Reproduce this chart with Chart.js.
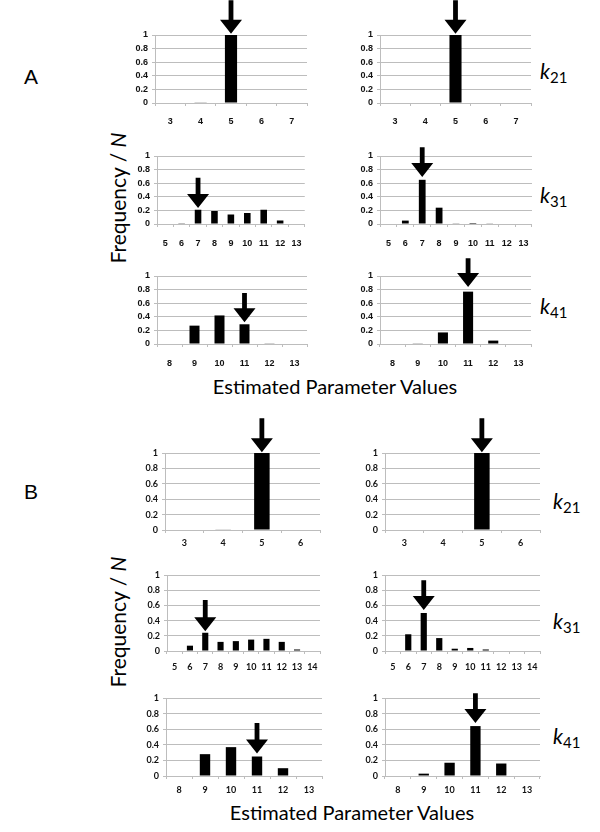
<!DOCTYPE html>
<html>
<head>
<meta charset="utf-8">
<script src="https://cdn.jsdelivr.net/npm/chart.js@4.4.1/dist/chart.umd.min.js"></script>
<style>
  body { margin: 0; background: #fff; }
  #page { position: relative; width: 600px; height: 832px; overflow: hidden; }
  canvas { position: absolute; }
  .txt { position: absolute; color: #000; white-space: nowrap; transform: translate(-50%, -50%); }
  .panel { font-family: "Liberation Sans", Arial, sans-serif; font-size: 21px; }
  .klab { font-family: Lato, sans-serif; font-size: 21px; transform: translate(0, -50%); }
  .klab sub { font-size: 15px; vertical-align: -4px; font-style: normal; }
  .ylab { font-family: Lato, sans-serif; font-size: 21px; transform: translate(-50%, -50%) rotate(-90deg); }
  .xlab { font-family: Lato, sans-serif; font-size: 20px; }
</style>
</head>
<body>
<div id="page">
  <div class="txt panel" style="left:31px; top:77px;">A</div>
  <div class="txt panel" style="left:31px; top:492px;">B</div>

  <div class="txt ylab" style="left:117px; top:198px;">Frequency / <i>N</i></div>
  <div class="txt ylab" style="left:117px; top:622px;">Frequency / <i>N</i></div>

  <div class="txt xlab" style="left:335px; top:386px;">Estimated Parameter Values</div>
  <div class="txt xlab" style="left:352px; top:812px;">Estimated Parameter Values</div>

  <div class="txt klab" style="left:540px; top:72px;"><i>k</i><sub>21</sub></div>
  <div class="txt klab" style="left:540px; top:196px;"><i>k</i><sub>31</sub></div>
  <div class="txt klab" style="left:540px; top:307px;"><i>k</i><sub>41</sub></div>
  <div class="txt klab" style="left:553px; top:502px;"><i>k</i><sub>21</sub></div>
  <div class="txt klab" style="left:553px; top:622px;"><i>k</i><sub>31</sub></div>
  <div class="txt klab" style="left:553px; top:737px;"><i>k</i><sub>41</sub></div>
</div>
<script>
// categories (estimated parameter values)
const k21CatsA = ["3", "4", "5", "6", "7"];
const k21CatsB = ["3", "4", "5", "6"];
const k31CatsA = ["5", "6", "7", "8", "9", "10", "11", "12", "13"];
const k31CatsB = ["5", "6", "7", "8", "9", "10", "11", "12", "13", "14"];
const k41Cats = ["8", "9", "10", "11", "12", "13"];

// frequency / N, panel A
const aK21Left = [0, 0.005, 1, 0, 0];
const aK21Right = [0, 0, 1, 0, 0];
const aK31Left = [0, 0.01, 0.21, 0.19, 0.14, 0.16, 0.21, 0.05, 0];
const aK31Right = [0, 0.05, 0.65, 0.24, 0.01, 0.015, 0.005, 0, 0];
const aK41Left = [0, 0.27, 0.42, 0.29, 0.01, 0];
const aK41Right = [0, 0.01, 0.17, 0.77, 0.05, 0];

// frequency / N, panel B
const bK21Left = [0, 0.005, 1, 0];
const bK21Right = [0, 0, 1, 0];
const bK31Left = [0, 0.07, 0.24, 0.12, 0.13, 0.15, 0.16, 0.12, 0.02, 0];
const bK31Right = [0, 0.22, 0.5, 0.17, 0.03, 0.04, 0.02, 0, 0, 0];
const bK41Left = [0, 0.28, 0.37, 0.25, 0.1, 0];
const bK41Right = [0, 0.03, 0.17, 0.64, 0.16, 0];

// true value arrows: category, tip value, tail value (same order as the charts)
const arrowCats = ["5", "5", "7", "7", "11", "11", "5", "5", "7", "7", "11", "11"];
const arrowTips = [1.02, 1.02, 0.235, 0.69, 0.32, 0.84, 1.01, 1.01, 0.26, 0.54, 0.29, 0.68];
const arrowTails = [1.51, 1.51, 0.68, 1.13, 0.75, 1.26, 1.45, 1.45, 0.67, 0.93, 0.68, 1.06];

const yTicks = [0, 0.2, 0.4, 0.6, 0.8, 1];

const charts = [
  { cats: k21CatsA, vals: aK21Left },
  { cats: k21CatsA, vals: aK21Right },
  { cats: k31CatsA, vals: aK31Left },
  { cats: k31CatsA, vals: aK31Right },
  { cats: k41Cats, vals: aK41Left },
  { cats: k41Cats, vals: aK41Right },
  { cats: k21CatsB, vals: bK21Left },
  { cats: k21CatsB, vals: bK21Right },
  { cats: k31CatsB, vals: bK31Left },
  { cats: k31CatsB, vals: bK31Right },
  { cats: k41Cats, vals: bK41Left },
  { cats: k41Cats, vals: bK41Right },
];

// plot area boxes [left, top, width, height, tick font, x label gap]
const boxes = [
  [155, 35, 152, 68, "Liberation Sans", 10],
  [380, 35, 151, 68, "Liberation Sans", 10],
  [157, 156, 148, 68, "Liberation Sans", 11],
  [380, 156, 152, 68, "Liberation Sans", 11],
  [157, 276, 150, 68, "Liberation Sans", 11],
  [380, 276, 151, 68, "Liberation Sans", 11],
  [165, 453, 155, 77, "Lato", 5],
  [385, 453, 155, 77, "Lato", 5],
  [167, 575, 153, 76, "Lato", 8],
  [385, 575, 155, 76, "Lato", 8],
  [166, 698, 156, 78, "Lato", 6],
  [385, 698, 155, 78, "Lato", 6],
];

const gridGray = "#bdbdbd";
const Y_W = 32, X_H = 30, PAD_R = 8;

// draws the arrow pointing at the true parameter value
const arrowPlugin = {
  id: "arrow",
  afterDraw(chart, args, opts) {
    const ctx = chart.ctx;
    const xs = chart.scales.x, ys = chart.scales.y;
    const x = xs.getPixelForValue(xs.getLabels().indexOf(opts.cat));
    const yTip = ys.getPixelForValue(opts.tip);
    const yTail = ys.getPixelForValue(opts.tail);
    const headH = 14, headW = 11, shaft = 2.4;
    ctx.save();
    ctx.fillStyle = "#000";
    ctx.beginPath();
    ctx.moveTo(x - shaft, yTail);
    ctx.lineTo(x + shaft, yTail);
    ctx.lineTo(x + shaft, yTip - headH);
    ctx.lineTo(x + headW, yTip - headH);
    ctx.lineTo(x, yTip);
    ctx.lineTo(x - headW, yTip - headH);
    ctx.lineTo(x - shaft, yTip - headH);
    ctx.closePath();
    ctx.fill();
    ctx.restore();
  },
};

const page = document.getElementById("page");

charts.forEach((c, i) => {
  const [pl, pt, pw, ph, fam, gap] = boxes[i];
  const top = Math.max(0, pt - 48);
  const padTop = pt - top;
  const cv = document.createElement("canvas");
  const w = pw + Y_W + PAD_R;
  const h = padTop + ph + X_H;
  cv.width = w;
  cv.height = h;
  cv.style.left = pl - Y_W + "px";
  cv.style.top = top + "px";
  cv.style.width = w + "px";
  cv.style.height = h + "px";
  page.appendChild(cv);

  const tickFont = { family: fam, size: 9, weight: "bold" };

  new Chart(cv, {
    type: "bar",
    data: {
      labels: c.cats,
      datasets: [
        {
          data: c.vals,
          backgroundColor: "#000",
          borderWidth: 0,
          barPercentage: 0.4,
          categoryPercentage: 1,
        },
      ],
    },
    options: {
      responsive: false,
      animation: false,
      devicePixelRatio: 1,
      layout: { padding: { top: padTop, right: PAD_R, left: 0, bottom: 0 } },
      plugins: {
        legend: { display: false },
        tooltip: { enabled: false },
        arrow: { cat: arrowCats[i], tip: arrowTips[i], tail: arrowTails[i] },
      },
      scales: {
        x: {
          offset: true,
          grid: {
            offset: true,
            drawOnChartArea: false,
            drawTicks: true,
            tickLength: 3,
            color: gridGray,
          },
          border: { display: true, color: gridGray },
          ticks: { font: tickFont, color: "#111", padding: gap, maxRotation: 0, autoSkip: false },
          afterFit: (s) => { s.height = X_H; },
        },
        y: {
          min: 0,
          max: 1,
          afterBuildTicks: (s) => { s.ticks = yTicks.map((v) => ({ value: v })); },
          grid: { color: gridGray, tickLength: 3 },
          border: { display: true, color: gridGray },
          ticks: {
            font: tickFont,
            color: "#111",
            padding: 4,
            autoSkip: false,
            callback: (v) => String(+v.toFixed(1)),
          },
          afterFit: (s) => { s.width = Y_W; },
        },
      },
    },
    plugins: [arrowPlugin],
  });
});
</script>
</body>
</html>
